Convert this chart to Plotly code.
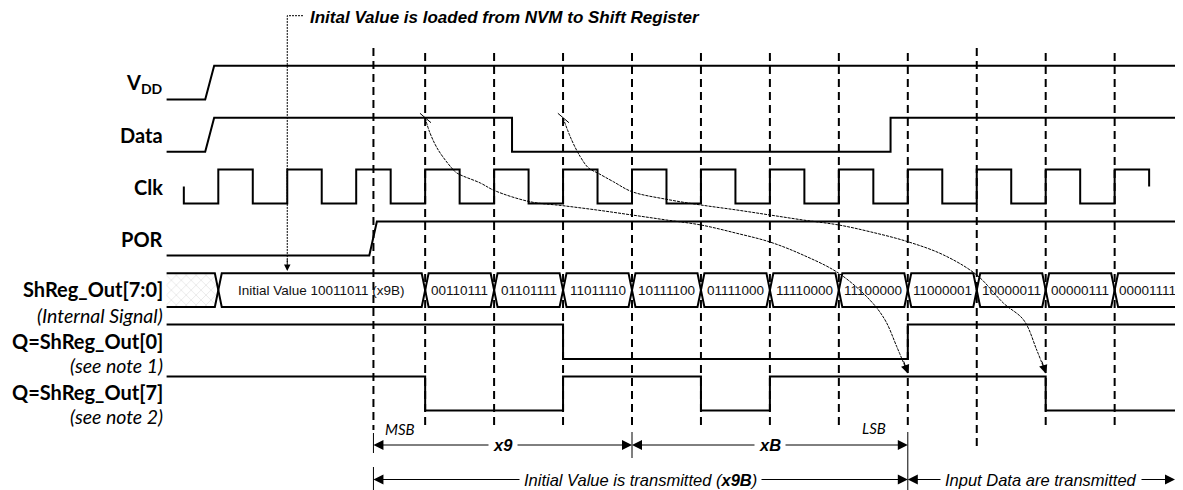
import plotly.graph_objects as go

# ---------------- data (time in clock periods, t=0 = first rising edge) ----------------
T_START = -0.75
T_END = 14.0

clk_rise = [0, 1, 2, 3, 4, 5, 6, 7, 8, 9, 10, 11, 12, 13]
clk_fall = [0.5, 1.5, 2.5, 3.5, 4.5, 5.5, 6.5, 7.5, 8.5, 9.5, 10.5, 11.5, 12.5]
clk_first = -0.5          # clock drawing starts here (half level)
clk_last = 13.5           # clock drawing stops here (half level)

vdd_t = [T_START, -0.19, -0.06, T_END]
vdd_v = [0, 0, 1, 1]

data_t = [T_START, -0.19, -0.06, 4.26, 4.26, 9.75, 9.75, T_END]
data_v = [0, 0, 1, 1, 0, 0, 1, 1]

por_t = [T_START, 2.19, 2.30, T_END]
por_v = [0, 0, 1, 1]

q0_t = [T_START, 5, 5, 10, 10, T_END]
q0_v = [1, 1, 0, 0, 1, 1]

q7_t = [T_START, 3, 3, 5, 5, 7, 7, 8, 8, 12, 12, T_END]
q7_v = [1, 1, 0, 0, 1, 1, 0, 0, 1, 1, 0, 0]

bus_edges = [0, 3, 4, 5, 6, 7, 8, 9, 10, 11, 12, 13, 13.95]
bus_values = ["Initial Value 10011011 (x9B)", "00110111", "01101111", "11011110",
              "10111100", "01111000", "11110000", "11100000", "11000001",
              "10000011", "00000111", "00001111"]

por_marker_t = 2.25
edge_marker_t = [3, 4, 5, 6, 7, 8, 9, 10, 11, 12, 13]

# curved "data bit travels" arrows (t, y)
curve1_t = [3.0, 3.07, 3.19, 3.385, 3.46, 3.80, 4.01, 4.52, 5.0, 5.49, 6.0, 6.5, 7.0,
            7.52, 8.0, 8.48, 9.0, 9.45, 9.67, 9.84, 10.0]
curve1_y = [118, 133, 150, 168, 173, 183, 190.7, 201.7, 205.7, 210, 215, 220, 225,
            233.3, 242, 255, 273.3, 300, 320, 346.7, 373]
curve2_t = [5.0, 5.125, 5.25, 5.37, 5.51, 5.73, 6.0, 6.5, 7.0, 7.52, 8.0, 8.48, 9.0,
            9.45, 10.0, 10.52, 11.0, 11.39, 11.68, 11.87, 12.0]
curve2_y = [118, 140, 156.7, 168, 173.3, 181.7, 191.7, 199.3, 205, 210, 215, 220, 225,
            231.7, 241.7, 255, 275, 303.3, 320, 350, 373]

signal_labels = ["V<sub>DD</sub>", "Data", "Clk", "POR", "ShReg_Out[7:0]",
                 "Q=ShReg_Out[0]", "Q=ShReg_Out[7]"]
sub_labels = ["(Internal Signal)", "(see note 1)", "(see note 2)"]

# ---------------- layout constants (page pixels, y downwards) ----------------
X0_PX, PERIOD_PX = 218.3, 68.95
W, H = 1183, 490
OFF = 8  # default page body margin: the figure div starts at (8, 8)
ROWS = {  # high_y, low_y
    "vdd": (65.7, 99.5), "data": (117.7, 151.7), "clk": (169.5, 203.5),
    "por": (221.5, 255.5), "bus": (273.3, 307.0), "q0": (324.5, 359.0),
    "q7": (376.5, 410.5),
}
LBL_Y = [83, 135, 187, 239, 289, 341, 392]
SUB_Y = [315, 365, 416]

BLACK = "#000000"
fig = go.Figure()


def px_t(px):
    return (px - X0_PX) / PERIOD_PX


LBL_T = px_t(164.5)


def lvl(row, v):
    hi, lo = ROWS[row]
    return lo - v * (lo - hi)


def wave(row, ts, vs, width=2):
    fig.add_trace(go.Scatter(x=ts, y=[lvl(row, v) for v in vs], mode="lines",
                             line=dict(color=BLACK, width=width), hoverinfo="skip"))


wave("vdd", vdd_t, vdd_v)
wave("data", data_t, data_v)
wave("por", por_t, por_v)
wave("q0", q0_t, q0_v)
wave("q7", q7_t, q7_v)

# clock
hi, lo = ROWS["clk"]
mid = (hi + lo) / 2
cx, cy = [clk_first, clk_first], [mid, lo]
for i, r in enumerate(clk_rise):
    if i < len(clk_fall):
        cx += [r, r, clk_fall[i], clk_fall[i]]
        cy += [lo, hi, hi, lo]
    else:
        cx += [r, r, clk_last, clk_last]
        cy += [lo, hi, hi, mid]
fig.add_trace(go.Scatter(x=cx, y=cy, mode="lines", line=dict(color=BLACK, width=2),
                         hoverinfo="skip"))

# bus
top, bot = ROWS["bus"]
bmid = (top + bot) / 2
hx = 0.05
fig.add_trace(go.Scatter(x=[T_START, -hx, 0, -hx, T_START], y=[top, top, bmid, bot, bot],
                         mode="lines", fill="toself", fillcolor="white",
                         fillpattern=dict(shape="x", fgcolor="#a0a0a0", bgcolor="white",
                                          size=7, solidity=0.12),
                         line=dict(color=BLACK, width=2), hoverinfo="skip"))
for a, b in zip(bus_edges[:-1], bus_edges[1:]):
    fig.add_trace(go.Scatter(x=[a, a + hx, b - hx, b, b - hx, a + hx, a],
                             y=[bmid, top, top, bmid, bot, bot, bmid], mode="lines",
                             line=dict(color=BLACK, width=2), hoverinfo="skip"))
for a, b, txt in zip(bus_edges[:-1], bus_edges[1:], bus_values):
    fig.add_annotation(x=(a + b) / 2, y=bmid + 0.5, text=txt, showarrow=False,
                       font=dict(family="Liberation Sans", size=13.5, color="#111"),
                       xanchor="center", yanchor="middle")

# dashed vertical markers
dash_lines = [(por_marker_t, 48, 430)] + [
    (t, 48 if t == 11 else 53, 446 if t == 11 else 428) for t in edge_marker_t]
for t, y0, y1 in dash_lines:
    fig.add_trace(go.Scatter(x=[t, t], y=[y0, y1], mode="lines",
                             line=dict(color=BLACK, width=2, dash="8px,5px"),
                             hoverinfo="skip"))
# solid ticks at span ends
for t, y0, y1 in [(por_marker_t, 433, 453), (por_marker_t, 467, 490), (6, 432, 458),
                  (10, 432, 490)]:
    fig.add_trace(go.Scatter(x=[t, t], y=[y0, y1], mode="lines",
                             line=dict(color=BLACK, width=1), hoverinfo="skip"))

# curves
for ct, cyv in [(curve1_t, curve1_y), (curve2_t, curve2_y)]:
    fig.add_trace(go.Scatter(x=ct, y=cyv, mode="lines", line_shape="spline",
                             line=dict(color=BLACK, width=1, dash="3px,1px"),
                             hoverinfo="skip"))
    fig.add_trace(go.Scatter(x=[ct[0] - 0.075, ct[0] + 0.085], y=[113.3, 122.7],
                             mode="lines", line=dict(color=BLACK, width=1),
                             hoverinfo="skip"))


def arrow(x, y, ax, ay, size=2.0, width=1.0):
    fig.add_annotation(x=x, y=y, ax=ax, ay=ay, xref="x", yref="y", axref="x", ayref="y",
                       showarrow=True, arrowhead=2, arrowsize=size, arrowwidth=width,
                       arrowcolor=BLACK, text="")


arrow(10.0, 373.5, 9.935, 360, size=1.7)
arrow(12.0, 373.5, 11.94, 360, size=1.7)

# pointer from top note
fig.add_trace(go.Scatter(x=[px_t(303), 1.0, 1.0], y=[15.7, 15.7, 262], mode="lines",
                         line=dict(color=BLACK, width=1, dash="2px,1px"), hoverinfo="skip"))
arrow(1.0, 271, 1.0, 258, size=1.3)
fig.add_annotation(x=px_t(309), y=17.5, borderpad=0,
                   text="<b><i>Inital Value is loaded from NVM to Shift Register</i></b>",
                   showarrow=False, xanchor="left", yanchor="middle",
                   font=dict(family="Liberation Sans", size=17, color=BLACK))

# span arrows
spans = [((por_marker_t, 6.0), 445, "<b><i>x9</i></b>"),
         ((6.0, 10.0), 445, "<b><i>xB</i></b>"),
         ((por_marker_t, 10.0), 479.5, "<i>Initial Value is transmitted (<b>x9B</b>)</i>"),
         ((10.0, 13.875), 479.5, "<i>Input Data are transmitted</i>")]
for (a, b), y, txt in spans:
    m = (a + b) / 2
    arrow(a, y, m, y)
    arrow(b, y, m, y)
for (a, b), y, txt in spans:
    fig.add_annotation(x=(a + b) / 2, y=y, text=txt, showarrow=False, bgcolor="white",
                       borderpad=4, xanchor="center", yanchor="middle",
                       font=dict(family="Liberation Sans", size=16.5, color=BLACK))

fig.add_annotation(x=px_t(400), y=429, text="<i>MSB</i>", showarrow=False,
                   font=dict(family="Lato", size=15, color=BLACK))
fig.add_annotation(x=px_t(874), y=428, text="<i>LSB</i>", showarrow=False,
                   font=dict(family="Lato", size=15, color=BLACK))

# signal labels
for txt, y in zip(signal_labels, LBL_Y):
    fig.add_annotation(x=LBL_T, y=y, text=f"<b>{txt}</b>", showarrow=False,
                       xanchor="right", yanchor="middle",
                       font=dict(family="Lato", size=20, color=BLACK))
for txt, y in zip(sub_labels, SUB_Y):
    fig.add_annotation(x=LBL_T, y=y, text=f"<i>{txt}</i>", showarrow=False,
                       xanchor="right", yanchor="middle",
                       font=dict(family="Lato", size=19.5, color=BLACK))

fig.update_layout(
    width=W - OFF, height=H - OFF, margin=dict(l=0, r=0, t=0, b=0),
    paper_bgcolor="white", plot_bgcolor="white", showlegend=False,
    xaxis=dict(range=[px_t(OFF), px_t(W)], visible=False, fixedrange=True),
    yaxis=dict(range=[H, OFF], visible=False, fixedrange=True),
)
fig.write_html("out.html")
